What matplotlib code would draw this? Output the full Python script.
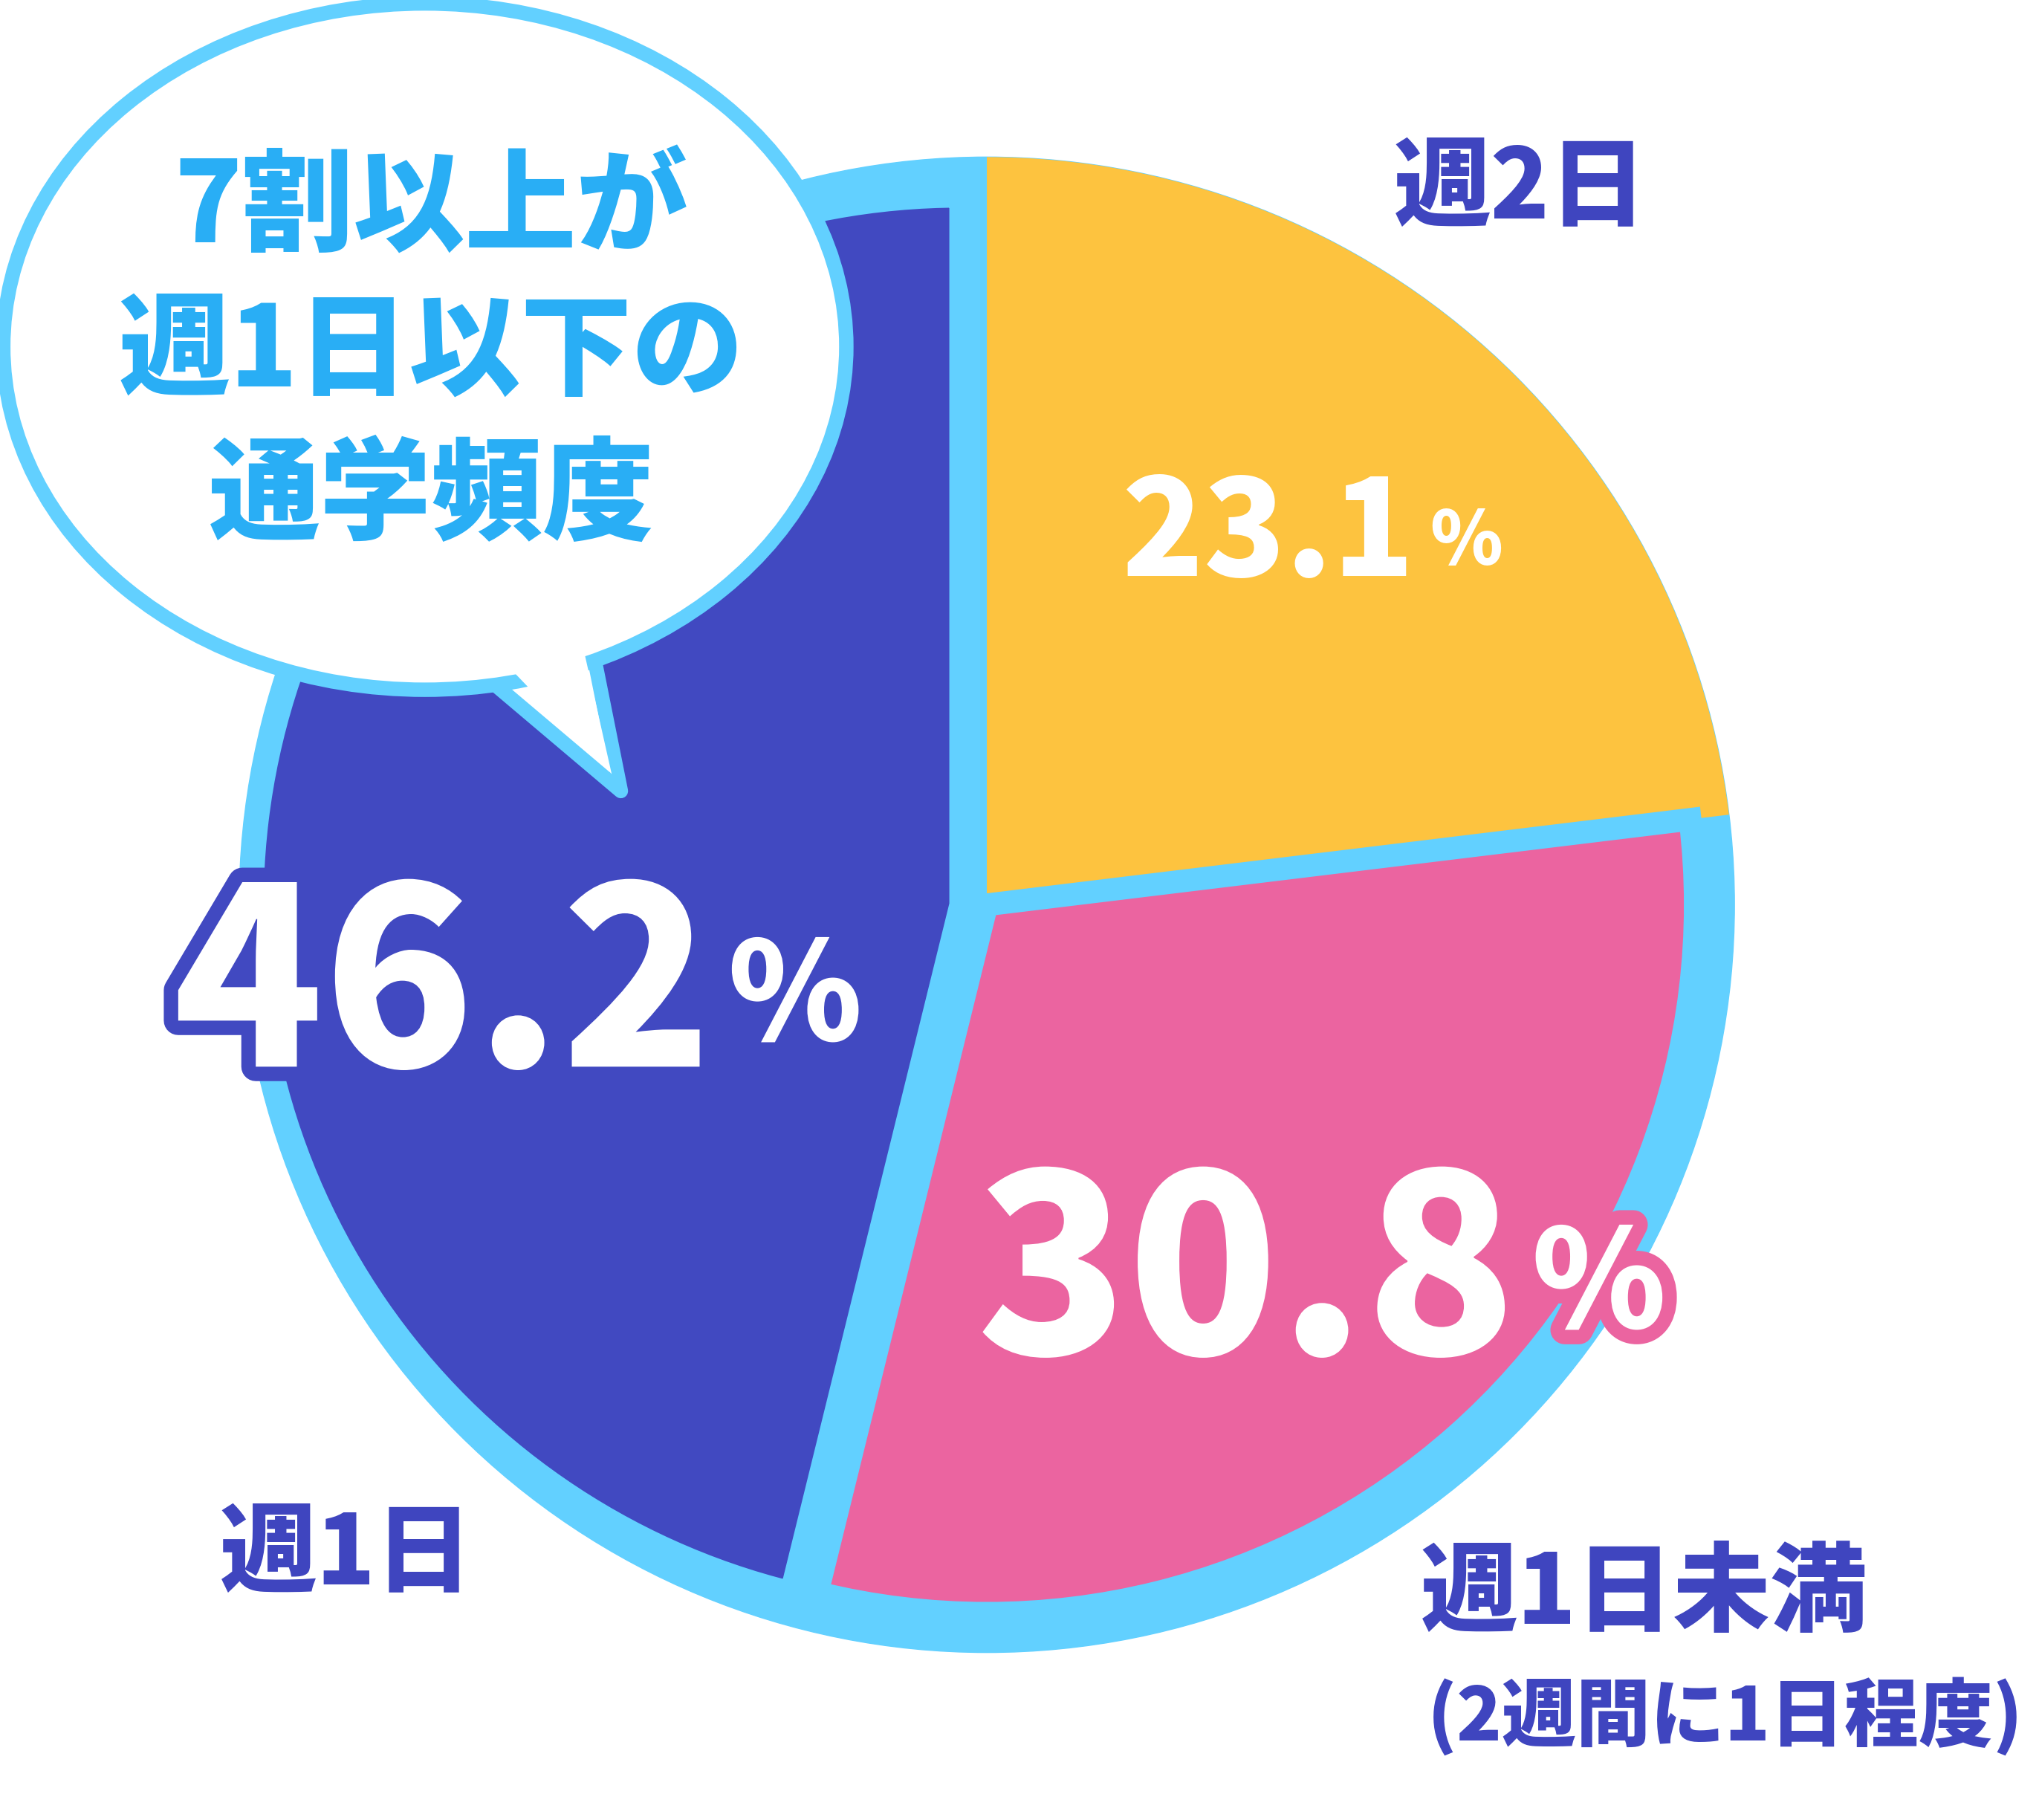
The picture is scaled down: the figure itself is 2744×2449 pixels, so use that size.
import matplotlib.pyplot as plt
import matplotlib.patheffects as pe
from matplotlib.patches import Circle, Ellipse, Polygon

plt.rcParams['font.family'] = ['Noto Sans CJK JP', 'DejaVu Sans']

# データ
labels = ['週2日', '週1日未満', '週1日']
values = [23.1, 30.8, 46.2]
colors = ['#FDC33F', '#EB64A0', '#4149C1']
callout = ['7割以上が', '週1日以下の', '通学頻度']

W, H = 1560, 1392
RING = '#62D0FF'
NAVY = '#3F45BF'
SKY = '#29AEF5'

fig = plt.figure(figsize=(27.44, 24.49), dpi=100)
ax = fig.add_axes([0, 0, 1, 1])

def Y(y):
    return H - y

cx, cy = 755, Y(692)
ax.add_patch(Circle((cx, cy), 572, color=RING, zorder=1))
wedges, _ = ax.pie(values, colors=colors, startangle=90, counterclock=False,
                   radius=542, center=(cx, cy), frame=True,
                   wedgeprops=dict(edgecolor=RING, linewidth=22))
for w in wedges:
    w.set_zorder(3)
wedges[0].set_radius(572)
wedges[0].set_linewidth(0)
wedges[0].set_zorder(2)
wedges[2].set_center((cx - 20, cy))
ax.set_xlim(0, W)
ax.set_ylim(0, H)
ax.set_aspect('equal')
ax.axis('off')

# 吹き出し
ax.add_patch(Polygon([(300, Y(505)), (365, Y(512)), (475, Y(605)), (455, Y(505))],
                     closed=True, fc='white', ec=RING, lw=14, zorder=5, joinstyle='round'))
ax.add_patch(Ellipse((325, Y(265)), 645, 525, fc='white', ec=RING, lw=14, zorder=5))
ax.add_patch(Polygon([(300, Y(490)), (370, Y(490)), (468, Y(592)), (445, Y(490))],
                     closed=True, fc='white', ec='none', zorder=6))
for i, t in enumerate(callout):
    ax.text(330, Y(160 + 110 * i), t, ha='center', va='center', fontsize=108,
            fontweight='black', color=SKY, zorder=7)

# パーセント
def pct(x, y, num, fs, stroke):
    pe_ = [pe.withStroke(linewidth=28, foreground=stroke)] if stroke else None
    ax.text(x, Y(y), num, ha='right', va='center', fontsize=fs, fontweight='black',
            color='white', zorder=8, path_effects=pe_)
    ax.text(x + 12, Y(y + 5), '%', ha='left', va='center', fontsize=fs * 0.55,
            fontweight='black', color='white', zorder=8, path_effects=pe_)

pct(1082, 410, f'{values[0]}', 130, None)
pct(545, 760, f'{values[2]}', 240, colors[2])
pct(1160, 980, f'{values[1]}', 240, colors[1])

# ラベル
ax.text(1163, Y(145), labels[0], ha='center', va='center', fontsize=94,
        fontweight='black', color=NAVY)
ax.text(265, Y(1190), labels[2], ha='center', va='center', fontsize=94,
        fontweight='black', color=NAVY)
ax.text(1258, Y(1220), labels[1], ha='center', va='center', fontsize=94,
        fontweight='black', color=NAVY)
ax.text(1320, Y(1313), '(2週間に1日程度)', ha='center', va='center', fontsize=72,
        fontweight='black', color=NAVY)

fig.savefig('out.png', dpi=100)
